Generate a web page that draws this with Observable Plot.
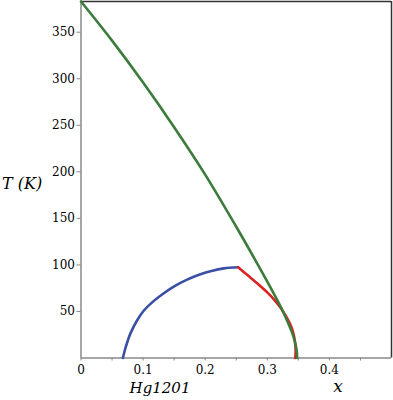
<!DOCTYPE html>
<html>
<head>
<meta charset="utf-8">
<script src="https://cdn.jsdelivr.net/npm/d3@7"></script>
<script src="https://cdn.jsdelivr.net/npm/@observablehq/plot@0.6"></script>
<style>
  html, body { margin: 0; padding: 0; background: #fff; }
  #chart svg { display: block; }
  #chart svg text { font-family: "DejaVu Serif", serif !important; }
</style>
</head>
<body>
<div id="chart"></div>
<script>
// Green curve (upper boundary)
const greenX = [0, 0.05, 0.1, 0.15, 0.2, 0.25, 0.28, 0.3, 0.32, 0.33, 0.34, 0.345, 0.3475, 0.348];
const greenT = [383, 341, 296, 248, 197, 141, 106, 82, 57, 43, 27, 16, 7, 0];

// Blue dome (left part)
const blueX = [0.0675, 0.07, 0.075, 0.08, 0.09, 0.1, 0.115, 0.13, 0.15, 0.17, 0.19, 0.21, 0.23, 0.253];
const blueT = [0, 7, 18, 27, 40, 50, 60, 68, 77, 84, 89.5, 93.5, 96.3, 97.5];

// Red dome (right part)
const redX = [0.253, 0.27, 0.285, 0.3, 0.312, 0.322, 0.33, 0.336, 0.341, 0.344, 0.3455, 0.3455, 0.345];
const redT = [97.5, 88, 79.5, 70.5, 62, 53.5, 45, 37.5, 29, 20, 11, 4, 0];

// Axes
const xDomain = [0, 0.5];
const yDomain = [0, 383];
const xMajorTicks = [0, 0.1, 0.2, 0.3, 0.4];
const xMajorLabels = ["0", "0.1", "0.2", "0.3", "0.4"];
const xMinorTicks = [0.05, 0.15, 0.25, 0.35, 0.45];
const yTicks = [50, 100, 150, 200, 250, 300, 350];
const yTickLabels = ["50", "100", "150", "200", "250", "300", "350"];

const yLabel = "T (K)";
const xLabelLeft = "Hg1201";
const xLabelRight = "x";

const toRows = (xs, ts) => xs.map((x, i) => ({x, T: ts[i]}));
const green = toRows(greenX, greenT);
const blue = toRows(blueX, blueT);
const red = toRows(redX, redT);

const serif = "DejaVu Serif, serif";

const chart = Plot.plot({
  width: 393,
  height: 400,
  marginLeft: 80.5,
  marginRight: 2,
  marginTop: 1,
  marginBottom: 42.5,
  style: {fontSize: "12px", background: "#fff", color: "#000"},
  x: {domain: xDomain, label: null},
  y: {domain: yDomain, label: null},
  marks: [
    Plot.ruleY([yDomain[1]], {stroke: "#333", strokeWidth: 1.5}),
    Plot.ruleX([xDomain[1]], {stroke: "#333", strokeWidth: 1.5}),
    Plot.ruleX([xDomain[0]], {stroke: "#888", strokeWidth: 1.5}),
    Plot.ruleY([yDomain[0]], {stroke: "#888", strokeWidth: 1.5}),
    Plot.axisX(xMajorTicks, {
      tickSize: 3, tickPadding: 4, stroke: "#888", fill: "#000", fontFamily: serif,
      tickFormat: (d) => xMajorLabels[xMajorTicks.indexOf(d)], label: null, fontSize: 12
    }),
    Plot.axisX(xMinorTicks, {tickSize: 3, stroke: "#888", tickFormat: () => "", label: null}),
    Plot.axisY(yTicks, {
      tickSize: 4, tickPadding: 2, stroke: "#888", fill: "#000", fontFamily: serif,
      tickFormat: (d) => yTickLabels[yTicks.indexOf(d)], label: null, fontSize: 12
    }),
    Plot.line(blue, {x: "x", y: "T", stroke: "#3a4fa6", strokeWidth: 2.6, curve: "catmull-rom"}),
    Plot.line(red, {x: "x", y: "T", stroke: "#d92222", strokeWidth: 2.6, curve: "catmull-rom"}),
    Plot.line(green, {x: "x", y: "T", stroke: "#3b7b3b", strokeWidth: 2.6, curve: "catmull-rom"}),
    Plot.text([yLabel], {frameAnchor: "left", dx: -79, dy: 4, textAnchor: "start", fontFamily: serif,
      fontSize: 16, fontStyle: "italic", fill: "#000"}),
    Plot.text([xLabelLeft], {frameAnchor: "bottom-left", dx: 79, dy: 35, textAnchor: "middle", fontFamily: serif,
      fontSize: 15, fontStyle: "italic", fill: "#000"}),
    Plot.text([xLabelRight], {frameAnchor: "bottom-left", dx: 257, dy: 34, textAnchor: "middle", fontFamily: serif,
      fontSize: 17, fontStyle: "italic", fill: "#000"})
  ]
});
document.getElementById("chart").appendChild(chart);
</script>
</body>
</html>
